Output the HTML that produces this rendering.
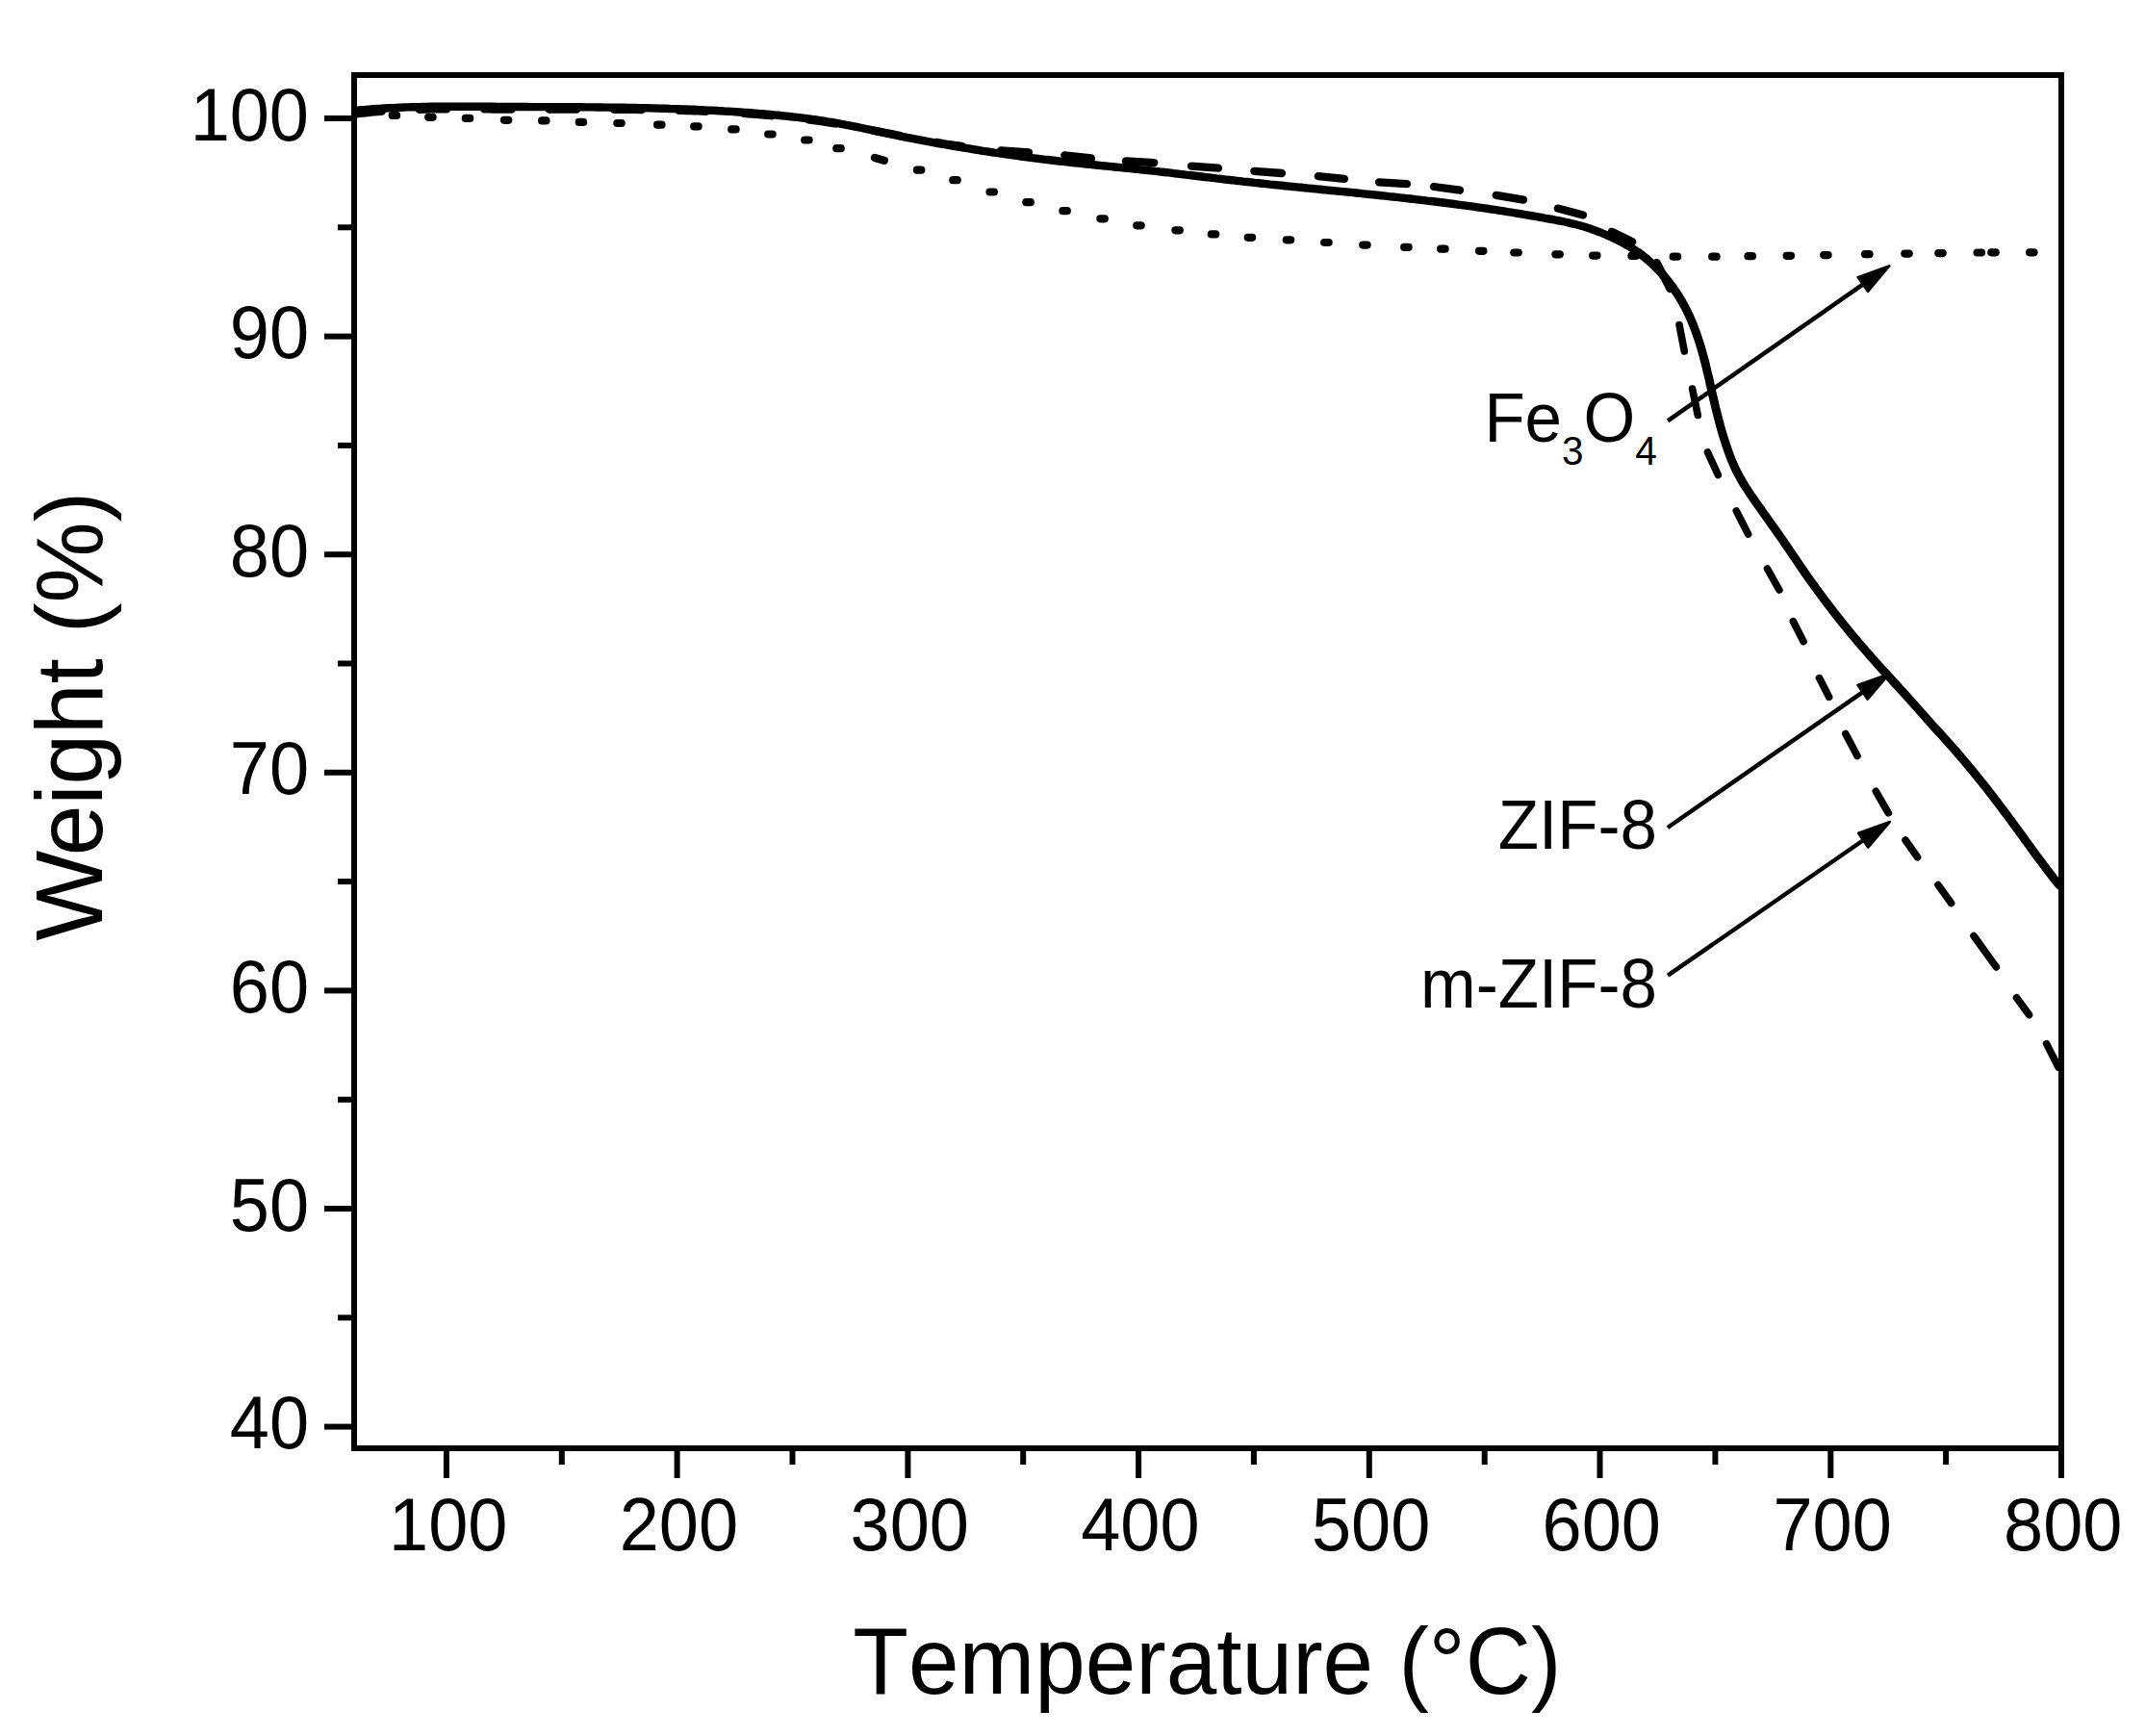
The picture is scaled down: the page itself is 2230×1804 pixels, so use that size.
<!DOCTYPE html>
<html lang="en"><head><meta charset="utf-8"><title>TGA curves</title>
<style>
html,body{margin:0;padding:0;background:#fff;}
body{width:2230px;height:1804px;overflow:hidden;}
svg{display:block;}
text{font-family:"Liberation Sans",sans-serif;fill:#000;font-kerning:none;}
.tick{font-size:77.6px;}
.title{font-size:97.6px;}
.lab{font-size:72.3px;}
.sub{font-size:42.4px;}
</style></head><body>
<svg width="2230" height="1804" viewBox="0 0 2230 1804">
<rect x="0" y="0" width="2230" height="1804" fill="#fff"/>
<defs><clipPath id="plot"><rect x="368.0" y="78.0" width="1777.0" height="1427.0"/></clipPath></defs>
<g clip-path="url(#plot)" fill="none" stroke="#000" stroke-linejoin="round">
<g stroke="none" fill="#000">
<rect x="403.6" y="115.8" width="12.6" height="8.2" rx="4.1" ry="4.1"/>
<rect x="441.1" y="117.7" width="12.6" height="8.2" rx="4.1" ry="4.1"/>
<rect x="479.7" y="118.8" width="12.6" height="8.2" rx="4.1" ry="4.1"/>
<rect x="519.8" y="120.7" width="12.6" height="8.2" rx="4.1" ry="4.1"/>
<rect x="559.0" y="121.3" width="12.6" height="8.2" rx="4.1" ry="4.1"/>
<rect x="597.6" y="122.8" width="12.6" height="8.2" rx="4.1" ry="4.1"/>
<rect x="637.2" y="123.9" width="12.6" height="8.2" rx="4.1" ry="4.1"/>
<rect x="679.0" y="125.6" width="12.6" height="8.2" rx="4.1" ry="4.1"/>
<rect x="717.1" y="127.3" width="12.6" height="8.2" rx="4.1" ry="4.1"/>
<rect x="756.1" y="130.3" width="12.6" height="8.2" rx="4.1" ry="4.1"/>
<rect x="794.1" y="135.4" width="12.6" height="8.2" rx="4.1" ry="4.1"/>
<rect x="832.1" y="141.4" width="12.6" height="8.2" rx="4.1" ry="4.1"/>
<rect x="865.2" y="150.1" width="12.6" height="8.2" rx="4.1" ry="4.1"/>
<rect x="948.8" y="172.6" width="12.6" height="8.2" rx="4.1" ry="4.1"/>
<rect x="986.2" y="183.1" width="12.6" height="8.2" rx="4.1" ry="4.1"/>
<rect x="1024.4" y="195.4" width="12.6" height="8.2" rx="4.1" ry="4.1"/>
<rect x="1062.3" y="206.1" width="12.6" height="8.2" rx="4.1" ry="4.1"/>
<rect x="1100.3" y="215.1" width="12.6" height="8.2" rx="4.1" ry="4.1"/>
<rect x="1139.3" y="223.2" width="12.6" height="8.2" rx="4.1" ry="4.1"/>
<rect x="1177.2" y="230.2" width="12.6" height="8.2" rx="4.1" ry="4.1"/>
<rect x="1217.3" y="235.2" width="12.6" height="8.2" rx="4.1" ry="4.1"/>
<rect x="1254.7" y="239.3" width="12.6" height="8.2" rx="4.1" ry="4.1"/>
<rect x="1292.6" y="242.7" width="12.6" height="8.2" rx="4.1" ry="4.1"/>
<rect x="1332.7" y="245.2" width="12.6" height="8.2" rx="4.1" ry="4.1"/>
<rect x="1372.1" y="247.9" width="12.6" height="8.2" rx="4.1" ry="4.1"/>
<rect x="1412.1" y="250.5" width="12.6" height="8.2" rx="4.1" ry="4.1"/>
<rect x="1455.1" y="252.8" width="12.6" height="8.2" rx="4.1" ry="4.1"/>
<rect x="1493.1" y="254.6" width="12.6" height="8.2" rx="4.1" ry="4.1"/>
<rect x="1532.9" y="256.7" width="12.6" height="8.2" rx="4.1" ry="4.1"/>
<rect x="1569.2" y="258.4" width="12.6" height="8.2" rx="4.1" ry="4.1"/>
<rect x="1612.3" y="260.2" width="12.6" height="8.2" rx="4.1" ry="4.1"/>
<rect x="1651.0" y="261.5" width="12.6" height="8.2" rx="4.1" ry="4.1"/>
<rect x="1691.3" y="261.8" width="12.6" height="8.2" rx="4.1" ry="4.1"/>
<rect x="1734.6" y="262.6" width="12.6" height="8.2" rx="4.1" ry="4.1"/>
<rect x="1775.1" y="262.6" width="12.6" height="8.2" rx="4.1" ry="4.1"/>
<rect x="1812.4" y="262.1" width="12.6" height="8.2" rx="4.1" ry="4.1"/>
<rect x="1852.5" y="261.7" width="12.6" height="8.2" rx="4.1" ry="4.1"/>
<rect x="1891.1" y="261.0" width="12.6" height="8.2" rx="4.1" ry="4.1"/>
<rect x="1934.0" y="260.1" width="12.6" height="8.2" rx="4.1" ry="4.1"/>
<rect x="1975.2" y="259.5" width="12.6" height="8.2" rx="4.1" ry="4.1"/>
<rect x="2010.2" y="259.0" width="12.6" height="8.2" rx="4.1" ry="4.1"/>
<rect x="2050.5" y="258.4" width="12.6" height="8.2" rx="4.1" ry="4.1"/>
<rect x="2065.2" y="258.2" width="12.6" height="8.2" rx="4.1" ry="4.1"/>
<rect x="2105.0" y="258.2" width="12.6" height="8.2" rx="4.1" ry="4.1"/>
</g>
<line x1="909.0" y1="164.0" x2="918.8" y2="166.8" stroke-width="8.2" stroke-linecap="round"/>
<path d="M367.9 118.6L371.9 118.1L375.9 117.6L379.9 117.2L383.9 116.8L387.9 116.4L391.9 116.0L395.9 115.7L399.9 115.4L403.9 115.1L407.9 114.9L412.0 114.6L416.0 114.4L420.0 114.2L424.0 114.1L428.0 113.9L432.0 113.8L436.1 113.7L440.1 113.6L444.1 113.5L448.1 113.4L452.1 113.4L456.1 113.3L460.2 113.3L464.2 113.3L468.2 113.2L472.2 113.2L476.2 113.2L480.3 113.3L484.3 113.3L488.3 113.3L492.3 113.3L496.3 113.3L500.4 113.4L504.4 113.4L508.4 113.4L512.4 113.5L516.4 113.5L520.4 113.5L524.5 113.5L528.5 113.6L532.5 113.6L536.5 113.6L540.5 113.6L544.6 113.6L548.6 113.6L552.6 113.6L556.6 113.6L560.6 113.6L564.7 113.6L568.7 113.6L572.7 113.6L576.7 113.6L580.7 113.6L584.7 113.6L588.8 113.6L592.8 113.6L596.8 113.6L600.8 113.6L604.8 113.6L608.9 113.6L612.9 113.6L616.9 113.6L620.9 113.6L624.9 113.7L629.0 113.7L633.0 113.7L637.0 113.7L641.0 113.7L645.0 113.8L649.1 113.8L653.1 113.8L657.1 113.9L661.1 113.9L665.1 114.0L669.1 114.0L673.2 114.1L677.2 114.1L681.2 114.2L685.2 114.3L689.2 114.4L693.3 114.4L697.3 114.5L701.3 114.6L705.3 114.8L709.3 114.9L713.3 115.0L717.4 115.1L721.4 115.3L725.4 115.4L729.4 115.6L733.4 115.7L737.4 115.9L741.5 116.1L745.5 116.3L749.5 116.5L753.5 116.7L757.5 116.9L761.5 117.2L765.5 117.4L769.5 117.7L773.6 117.9L777.6 118.2L781.6 118.5L785.6 118.8L789.6 119.1L793.6 119.5L797.6 119.8L801.6 120.2L805.6 120.5L809.6 120.9L813.6 121.3L817.6 121.7L821.6 122.2L825.6 122.6L829.6 123.1L833.6 123.6L837.6 124.1L841.5 124.6L845.5 125.1L849.5 125.6L853.5 126.2L857.5 126.8L861.4 127.4L865.4 128.0L869.4 128.6L873.3 129.3L877.3 130.0L881.3 130.6L885.2 131.4L889.2 132.1L893.1 132.8L897.1 133.5L901.0 134.3L905.0 135.0L908.9 135.8L912.9 136.6L916.8 137.4L920.8 138.1L924.7 138.9L928.6 139.7L932.6 140.5L936.5 141.2L940.5 142.0L944.4 142.8L948.4 143.5L952.3 144.3L956.3 145.0L960.2 145.7L964.2 146.4L968.1 147.1L972.1 147.8L976.1 148.5L980.0 149.2L984.0 149.8L988.0 150.4L991.9 151.0L995.9 151.5L999.9 152.1" stroke-width="8.4" stroke-linecap="round" stroke-dasharray="28.5 39" stroke-dashoffset="-0.5"/>
<g stroke-linecap="round">
<line x1="1040.0" y1="156.5" x2="1069.0" y2="158.3" stroke-width="8.3"/>
<line x1="1106.3" y1="161.5" x2="1134.0" y2="164.5" stroke-width="8.3"/>
<line x1="1170.0" y1="167.4" x2="1199.3" y2="169.1" stroke-width="8.3"/>
<line x1="1238.0" y1="172.6" x2="1266.0" y2="174.6" stroke-width="8.3"/>
<line x1="1303.3" y1="177.9" x2="1332.0" y2="180.0" stroke-width="8.3"/>
<line x1="1369.8" y1="183.2" x2="1397.0" y2="185.8" stroke-width="8.3"/>
<line x1="1433.1" y1="189.4" x2="1462.0" y2="191.1" stroke-width="8.3"/>
<line x1="1490.0" y1="194.0" x2="1517.0" y2="197.6" stroke-width="8.3"/>
<line x1="1554.7" y1="202.9" x2="1583.1" y2="207.6" stroke-width="8.3"/>
<line x1="1618.8" y1="216.6" x2="1645.0" y2="223.4" stroke-width="8.3"/>
<line x1="1674.8" y1="240.8" x2="1696.2" y2="251.3" stroke-width="8.3"/>
<line x1="1721.5" y1="273.0" x2="1735.5" y2="300.0" stroke-width="8.3"/>
<line x1="1745.0" y1="337.5" x2="1750.3" y2="365.0" stroke-width="7.6"/>
<line x1="1758.6" y1="404.0" x2="1764.3" y2="431.5" stroke-width="7.6"/>
<line x1="1774.5" y1="470.0" x2="1785.3" y2="493.5" stroke-width="7.6"/>
<line x1="1804.3" y1="531.0" x2="1816.6" y2="555.0" stroke-width="7.6"/>
<line x1="1836.5" y1="591.0" x2="1848.9" y2="613.0" stroke-width="7.6"/>
<line x1="1863.3" y1="645.6" x2="1874.0" y2="666.5" stroke-width="7.6"/>
<line x1="1890.5" y1="704.6" x2="1900.6" y2="724.3" stroke-width="7.6"/>
<line x1="1917.8" y1="762.5" x2="1930.0" y2="785.5" stroke-width="7.6"/>
<line x1="1949.3" y1="822.3" x2="1962.3" y2="844.8" stroke-width="7.6"/>
<line x1="1980.0" y1="873.0" x2="1992.5" y2="890.8" stroke-width="7.6"/>
<line x1="2014.0" y1="919.6" x2="2027.6" y2="938.5" stroke-width="7.6"/>
<line x1="2051.0" y1="972.5" x2="2074.3" y2="1004.9" stroke-width="7.6"/>
<line x1="2095.5" y1="1036.8" x2="2108.5" y2="1054.6" stroke-width="7.6"/>
<line x1="2126.6" y1="1084.6" x2="2139.0" y2="1109.0" stroke-width="7.6"/>
</g>
<path d="M367.9 115.1L371.9 114.7L375.9 114.3L379.9 114.0L383.9 113.6L387.9 113.3L391.9 113.0L395.9 112.8L399.9 112.5L403.9 112.3L407.9 112.1L411.9 111.9L415.9 111.7L419.9 111.5L423.9 111.4L427.9 111.3L431.9 111.2L435.9 111.1L439.9 111.0L443.9 110.9L447.9 110.8L451.9 110.8L455.9 110.7L460.0 110.7L464.0 110.7L468.0 110.7L472.0 110.7L476.0 110.7L480.0 110.7L484.0 110.7L488.0 110.7L492.0 110.7L496.0 110.7L500.0 110.8L504.0 110.8L508.0 110.8L512.0 110.8L516.0 110.9L520.1 110.9L524.1 110.9L528.1 110.9L532.1 111.0L536.1 111.0L540.1 111.0L544.1 111.0L548.1 111.0L552.1 111.1L556.1 111.1L560.1 111.1L564.1 111.1L568.1 111.1L572.1 111.2L576.1 111.2L580.1 111.2L584.2 111.2L588.2 111.2L592.2 111.3L596.2 111.3L600.2 111.3L604.2 111.3L608.2 111.4L612.2 111.4L616.2 111.4L620.2 111.5L624.2 111.5L628.2 111.6L632.2 111.6L636.2 111.7L640.2 111.7L644.2 111.8L648.3 111.8L652.3 111.9L656.3 112.0L660.3 112.0L664.3 112.1L668.3 112.2L672.3 112.3L676.3 112.4L680.3 112.5L684.3 112.6L688.3 112.7L692.3 112.8L696.3 113.0L700.3 113.1L704.3 113.2L708.3 113.4L712.3 113.5L716.3 113.7L720.3 113.8L724.3 114.0L728.3 114.2L732.3 114.4L736.4 114.6L740.4 114.8L744.4 115.0L748.4 115.2L752.4 115.5L756.4 115.7L760.4 115.9L764.3 116.2L768.3 116.5L772.3 116.8L776.3 117.0L780.3 117.3L784.3 117.6L788.3 118.0L792.3 118.3L796.3 118.6L800.3 119.0L804.3 119.4L808.3 119.8L812.3 120.2L816.2 120.6L820.2 121.0L824.2 121.5L828.2 121.9L832.2 122.4L836.1 122.9L840.1 123.4L844.1 124.0L848.1 124.5L852.0 125.1L856.0 125.7L859.9 126.4L863.9 127.0L867.8 127.7L871.8 128.4L875.7 129.1L879.7 129.9L883.6 130.6L887.5 131.4L891.4 132.2L895.4 133.0L899.3 133.9L903.2 134.7L907.1 135.5L911.0 136.4L915.0 137.2L918.9 138.0L922.8 138.9L926.7 139.7L930.6 140.5L934.6 141.3L938.5 142.1L942.4 142.9L946.4 143.7L950.3 144.4L954.2 145.2L958.2 145.9L962.1 146.7L966.0 147.4L970.0 148.1L973.9 148.8L977.9 149.6L981.8 150.2L985.7 150.9L989.7 151.6L993.6 152.3L997.6 152.9L1001.6 153.6L1005.5 154.2L1009.5 154.9L1013.4 155.5L1017.4 156.1L1021.3 156.8L1025.3 157.4L1029.3 158.0L1033.2 158.6L1037.2 159.1L1041.1 159.7L1045.1 160.3L1049.1 160.8L1053.0 161.4L1057.0 161.9L1061.0 162.5L1065.0 163.0L1068.9 163.5L1072.9 164.1L1076.9 164.6L1080.9 165.1L1084.8 165.6L1088.8 166.0L1092.8 166.5L1096.8 167.0L1100.7 167.5L1104.7 167.9L1108.7 168.4L1112.7 168.8L1116.7 169.2L1120.7 169.6L1124.6 170.1L1128.6 170.5L1132.6 170.9L1136.6 171.3L1140.6 171.7L1144.6 172.1L1148.6 172.5L1152.5 172.9L1156.5 173.3L1160.5 173.7L1164.5 174.1L1168.5 174.5L1172.5 174.9L1176.5 175.3L1180.4 175.7L1184.4 176.2L1188.4 176.6L1192.4 177.0L1196.4 177.4L1200.4 177.9L1204.3 178.3L1208.3 178.8L1212.3 179.2L1216.3 179.7L1220.3 180.2L1224.2 180.6L1228.2 181.1L1232.2 181.6L1236.2 182.0L1240.2 182.5L1244.1 183.0L1248.1 183.5L1252.1 184.0L1256.1 184.4L1260.0 184.9L1264.0 185.4L1268.0 185.8L1272.0 186.3L1276.0 186.8L1279.9 187.2L1283.9 187.7L1287.9 188.1L1291.9 188.6L1295.9 189.0L1299.9 189.4L1303.8 189.9L1307.8 190.3L1311.8 190.7L1315.8 191.1L1319.8 191.6L1323.8 192.0L1327.7 192.4L1331.7 192.8L1335.7 193.2L1339.7 193.6L1343.7 194.0L1347.7 194.4L1351.7 194.8L1355.6 195.2L1359.6 195.6L1363.6 196.0L1367.6 196.4L1371.6 196.8L1375.6 197.2L1379.6 197.6L1383.6 198.0L1387.5 198.4L1391.5 198.8L1395.5 199.1L1399.5 199.5L1403.5 199.9L1407.5 200.3L1411.5 200.7L1415.4 201.2L1419.4 201.6L1423.4 202.0L1427.4 202.4L1431.4 202.8L1435.4 203.2L1439.4 203.6L1443.3 204.1L1447.3 204.5L1451.3 204.9L1455.3 205.4L1459.3 205.8L1463.3 206.3L1467.2 206.7L1471.2 207.2L1475.2 207.6L1479.2 208.1L1483.2 208.6L1487.1 209.0L1491.1 209.5L1495.1 210.0L1499.1 210.5L1503.0 211.0L1507.0 211.5L1511.0 212.0L1515.0 212.6L1518.9 213.1L1522.9 213.6L1526.9 214.2L1530.8 214.7L1534.8 215.3L1538.8 215.9L1542.7 216.4L1546.7 217.0L1550.7 217.6L1554.6 218.2L1558.6 218.8L1562.5 219.4L1566.5 220.1L1570.5 220.7L1574.4 221.3L1578.4 222.0L1582.3 222.6L1586.3 223.3L1590.2 224.0L1594.2 224.7L1598.1 225.3L1602.1 226.0L1606.0 226.8L1609.9 227.5L1613.9 228.2L1617.8 229.0L1621.7 229.7L1625.7 230.5L1629.6 231.4L1633.5 232.3L1637.4 233.2L1641.3 234.2L1645.1 235.3L1649.0 236.5L1652.8 237.7L1656.5 239.1L1660.3 240.5L1664.0 241.9L1667.7 243.5L1671.4 245.1L1675.0 246.7L1678.6 248.5L1682.2 250.2L1685.8 252.1L1689.3 254.0L1692.8 256.0L1696.2 258.1L1699.5 260.3L1702.8 262.6L1706.0 265.0L1709.2 267.5" stroke-width="8.4" stroke-linecap="butt"/>
<path d="M1702.8 262.6L1706.0 265.0L1709.2 267.5L1712.3 270.0L1715.3 272.7L1718.2 275.4L1721.1 278.2L1723.9 281.1L1726.6 284.0L1729.2 287.0L1731.8 290.1L1734.3 293.3L1736.7 296.4L1739.1 299.7L1741.3 303.0L1743.5 306.3L1745.6 309.8L1747.7 313.2L1749.6 316.7L1751.5 320.2L1753.3 323.8L1755.1 327.4L1756.7 331.1L1758.3 334.8L1759.8 338.5L1761.2 342.2L1762.6 346.0L1763.9 349.7L1765.2 353.6L1766.4 357.4L1767.6 361.2L1768.7 365.1L1769.7 368.9L1770.8 372.8L1771.8 376.7L1772.8 380.5L1773.7 384.4L1774.6 388.3L1775.6 392.2L1776.5 396.1L1777.3 400.0L1778.2 404.0L1779.1 407.9L1780.0 411.8L1780.9 415.7L1781.8 419.6L1782.7 423.5L1783.7 427.4L1784.7 431.3L1785.7 435.1L1786.7 439.0L1787.7 442.9L1788.8 446.7L1789.9 450.6L1791.1 454.4L1792.3 458.2L1793.5 462.0L1794.8 465.8L1796.2 469.6L1797.5 473.4L1799.0 477.1L1800.5 480.8L1802.1 484.5L1803.8 488.1L1805.6 491.7L1807.5 495.2L1809.5 498.7L1811.5 502.2L1813.6 505.6L1815.8 508.9L1818.0 512.3L1820.2 515.6L1822.5 518.9L1824.8 522.2L1827.1 525.5L1829.4 528.7L1831.7 532.0L1834.1 535.3L1836.4 538.5L1838.7 541.8L1841.0 545.1L1843.4 548.3L1845.7 551.6L1848.0 554.9L1850.3 558.2L1852.6 561.5L1854.8 564.8L1857.1 568.1L1859.3 571.4L1861.6 574.7L1863.8 578.0L1866.1 581.3L1868.3 584.6L1870.6 588.0L1872.8 591.3L1875.1 594.6L1877.4 597.8L1879.7 601.1L1882.0 604.4L1884.4 607.6L1886.7 610.9L1889.1 614.1L1891.5 617.3L1893.9 620.6L1896.3 623.8L1898.7 627.0L1901.1 630.2L1903.5 633.3L1906.0 636.5L1908.5 639.7L1910.9 642.8L1913.4 645.9L1915.9 649.1L1918.5 652.2L1921.0 655.3L1923.5 658.4L1926.1 661.5L1928.7 664.5L1931.2 667.6L1933.8 670.6L1936.5 673.7L1939.1 676.7L1941.7 679.7L1944.4 682.7L1947.0 685.7L1949.7 688.7L1952.4 691.7L1955.1 694.7L1957.8 697.6L1960.5 700.6L1963.2 703.5L1965.9 706.5L1968.6 709.5L1971.3 712.4L1974.0 715.4L1976.7 718.3L1979.4 721.3L1982.1 724.2L1984.8 727.2L1987.4 730.2L1990.1 733.2L1992.8 736.2L1995.4 739.2L1998.1 742.2L2000.7 745.2L2003.4 748.2L2006.0 751.2L2008.7 754.2L2011.4 757.2L2014.1 760.1L2016.8 763.1L2019.5 766.1L2022.1 769.0L2024.8 772.0L2027.5 775.0L2030.2 778.0L2032.8 781.0L2035.4 784.0L2038.0 787.1L2040.6 790.1L2043.2 793.2L2045.8 796.3L2048.3 799.3L2050.9 802.4L2053.4 805.6L2055.9 808.7L2058.4 811.8L2060.9 814.9L2063.4 818.1L2065.9 821.2L2068.3 824.4L2070.8 827.6L2073.2 830.8L2075.7 833.9L2078.1 837.1L2080.5 840.3L2082.9 843.5L2085.3 846.7L2087.7 850.0L2090.1 853.2L2092.4 856.4L2094.8 859.6L2097.2 862.9L2099.5 866.1L2101.9 869.3L2104.2 872.6L2106.6 875.8L2109.0 879.1L2111.3 882.3L2113.7 885.6L2116.0 888.8L2118.4 892.0L2120.8 895.2L2123.2 898.4L2125.6 901.6L2128.0 904.8L2130.5 908.0L2132.9 911.2L2135.4 914.3L2137.9 917.4L2140.5 920.5" stroke-width="8.9" stroke-linecap="round"/>
</g>
<g stroke="#000" fill="#000">
<line x1="1733.0" y1="437.3" x2="1938.2" y2="293.8" stroke-width="4.5"/>
<polygon points="1963.5,276.2 1941.0,303.0 1930.6,288.1" stroke-width="2.4" stroke-linejoin="round"/>
<line x1="1732.9" y1="860.0" x2="1938.0" y2="717.6" stroke-width="4.5"/>
<polygon points="1963.3,700.1 1940.7,726.8 1930.3,711.9" stroke-width="2.4" stroke-linejoin="round"/>
<line x1="1733.1" y1="1013.7" x2="1938.6" y2="871.5" stroke-width="4.5"/>
<polygon points="1964.0,854.0 1941.3,880.7 1931.0,865.7" stroke-width="2.4" stroke-linejoin="round"/>
</g>
<g stroke="#000" fill="none" stroke-width="6.0" stroke-linecap="butt">
<rect x="368.0" y="78.0" width="1774.0" height="1427.0"/>
<line x1="337.0" y1="1482.6" x2="368.0" y2="1482.6"/>
<line x1="337.0" y1="1256.0" x2="368.0" y2="1256.0"/>
<line x1="337.0" y1="1029.4" x2="368.0" y2="1029.4"/>
<line x1="337.0" y1="802.8" x2="368.0" y2="802.8"/>
<line x1="337.0" y1="576.2" x2="368.0" y2="576.2"/>
<line x1="337.0" y1="349.6" x2="368.0" y2="349.6"/>
<line x1="337.0" y1="123.0" x2="368.0" y2="123.0"/>
<line x1="351.0" y1="1369.3" x2="368.0" y2="1369.3"/>
<line x1="351.0" y1="1142.7" x2="368.0" y2="1142.7"/>
<line x1="351.0" y1="916.1" x2="368.0" y2="916.1"/>
<line x1="351.0" y1="689.5" x2="368.0" y2="689.5"/>
<line x1="351.0" y1="462.9" x2="368.0" y2="462.9"/>
<line x1="351.0" y1="236.3" x2="368.0" y2="236.3"/>
<line x1="463.9" y1="1505.0" x2="463.9" y2="1536.0"/>
<line x1="703.6" y1="1505.0" x2="703.6" y2="1536.0"/>
<line x1="943.4" y1="1505.0" x2="943.4" y2="1536.0"/>
<line x1="1183.1" y1="1505.0" x2="1183.1" y2="1536.0"/>
<line x1="1422.8" y1="1505.0" x2="1422.8" y2="1536.0"/>
<line x1="1662.5" y1="1505.0" x2="1662.5" y2="1536.0"/>
<line x1="1902.3" y1="1505.0" x2="1902.3" y2="1536.0"/>
<line x1="2142.0" y1="1505.0" x2="2142.0" y2="1536.0"/>
<line x1="583.8" y1="1505.0" x2="583.8" y2="1522.0"/>
<line x1="823.5" y1="1505.0" x2="823.5" y2="1522.0"/>
<line x1="1063.2" y1="1505.0" x2="1063.2" y2="1522.0"/>
<line x1="1302.9" y1="1505.0" x2="1302.9" y2="1522.0"/>
<line x1="1542.7" y1="1505.0" x2="1542.7" y2="1522.0"/>
<line x1="1782.4" y1="1505.0" x2="1782.4" y2="1522.0"/>
<line x1="2022.1" y1="1505.0" x2="2022.1" y2="1522.0"/>
</g>
<g class="tick">
<text transform="translate(321 1505.2) scale(0.953 1)" text-anchor="end">40</text>
<text transform="translate(321 1278.6) scale(0.953 1)" text-anchor="end">50</text>
<text transform="translate(321 1052.0) scale(0.953 1)" text-anchor="end">60</text>
<text transform="translate(321 825.4) scale(0.953 1)" text-anchor="end">70</text>
<text transform="translate(321 598.8) scale(0.953 1)" text-anchor="end">80</text>
<text transform="translate(321 372.2) scale(0.953 1)" text-anchor="end">90</text>
<text transform="translate(321 145.6) scale(0.953 1)" text-anchor="end">100</text>
<text transform="translate(465.7 1611) scale(0.953 1)" text-anchor="middle">100</text>
<text transform="translate(705.4 1611) scale(0.953 1)" text-anchor="middle">200</text>
<text transform="translate(945.2 1611) scale(0.953 1)" text-anchor="middle">300</text>
<text transform="translate(1184.9 1611) scale(0.953 1)" text-anchor="middle">400</text>
<text transform="translate(1424.6 1611) scale(0.953 1)" text-anchor="middle">500</text>
<text transform="translate(1664.3 1611) scale(0.953 1)" text-anchor="middle">600</text>
<text transform="translate(1904.1 1611) scale(0.953 1)" text-anchor="middle">700</text>
<text transform="translate(2143.8 1611) scale(0.953 1)" text-anchor="middle">800</text>
</g>
<text class="title" transform="translate(1254.3 1760) scale(0.9683 1)" text-anchor="middle">Temperature (°C)</text>
<text class="title" transform="translate(106.3 977.7) rotate(-90) scale(1.022 1)">W</text>
<text class="title" transform="translate(106.3 889.2) rotate(-90) scale(0.969 1)">eight (%)</text>
<text class="lab" transform="translate(1542.4 459) scale(0.955 1)">Fe<tspan class="sub" dy="23.6">3</tspan><tspan dy="-23.6">O</tspan><tspan class="sub" dy="23.6">4</tspan></text>
<text class="lab" transform="translate(1722 882) scale(0.957 1)" text-anchor="end">ZIF-8</text>
<text class="lab" transform="translate(1722 1046.8) scale(0.957 1)" text-anchor="end">m-ZIF-8</text>
</svg></body></html>
